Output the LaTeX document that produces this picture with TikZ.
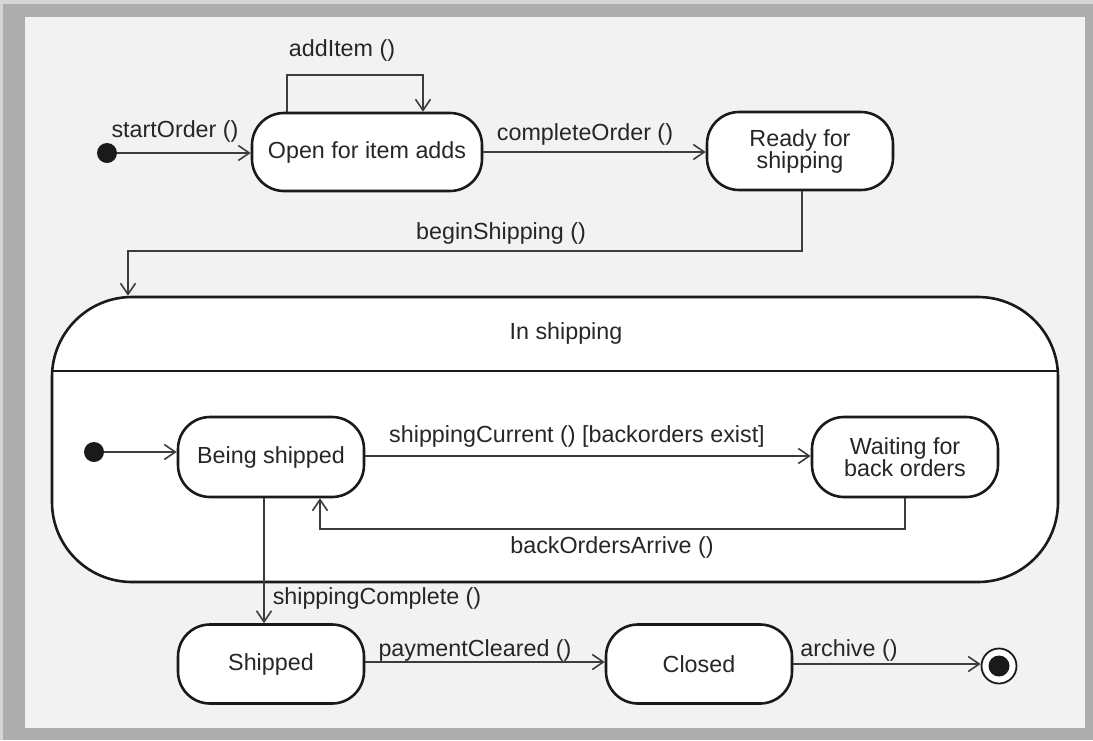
\documentclass[tikz,border=0pt]{standalone}
\usepackage{fontspec}
\setmainfont{Liberation Sans}
\usetikzlibrary{arrows.meta,positioning}
\definecolor{pagebg}{HTML}{F2F2F2}
\definecolor{framegray}{HTML}{ADADAD}
\definecolor{framelight}{HTML}{D6D6D6}
\definecolor{inkdark}{HTML}{1A1A1A}
\definecolor{conncol}{HTML}{3C3C3C}
\definecolor{textcol}{HTML}{262626}
\begin{document}
\begin{tikzpicture}[x=1pt,y=-1pt,
  font=\fontsize{23.3}{26}\selectfont,
  every node/.style={text=textcol},
  state/.style={draw=inkdark, fill=white, line width=2.6pt, rounded corners=32pt,
    align=center, inner sep=0pt},
  conn/.style={draw=conncol, line width=1.6pt,
    -{Straight Barb[length=11pt,width=15pt,line width=1.6pt]}},
  lbl/.style={inner sep=0pt},
  initdot/.style={circle, fill=inkdark, minimum size=20pt, inner sep=0pt},
]
% page and frame
\useasboundingbox (0,0) rectangle (1093,740);
\fill[framelight] (0,0) rectangle (1093,740);
\fill[framegray] (3,4) rectangle (1093,740);
\fill[pagebg] (25,17) rectangle (1085,728);

% composite state "In shipping"
\node[state, rounded corners=80pt, minimum width=1006pt, minimum height=285pt]
  (comp) at (555,439.5) {};
\draw[inkdark, line width=2pt] (52,371) -- (1058,371);
\node[lbl] (compname) at (566,333) {In shipping};

% top-level states
\node[initdot] (start) at (107,153) {};
\node[state, minimum width=230pt, minimum height=78pt] (open) at (367,152) {Open for item adds};
\node[state, minimum width=186pt, minimum height=78pt] (ready) at (800,151) {Ready for\\[-4pt]shipping};

% nested states
\node[initdot] (istart) at (94,452) {};
\node[state, minimum width=186pt, minimum height=80pt] (being) at (271,457) {Being shipped};
\node[state, minimum width=186pt, minimum height=80pt] (wait) at (905,457) {Waiting for\\[-4pt]back orders};

% bottom states
\node[state, minimum width=186pt, minimum height=79pt] (shipped) at (271,664) {Shipped};
\node[state, minimum width=186pt, minimum height=79pt] (closed) at (699,664) {Closed};
\node[circle, draw=inkdark, fill=white, line width=1.8pt, minimum size=35pt, inner sep=0pt]
  (final) at (999,666) {};
\node[circle, fill=inkdark, minimum size=21pt, inner sep=0pt] (finaldot) at (final) {};

% transitions
\draw[conn] (start) -- (open.west |- start);
\node[lbl] (lstart) at (175,131) {startOrder ()};

\coordinate (aiL) at (287,75);
\coordinate (aiR) at (423,75);
\draw[conn] (aiL |- open.north) -- (aiL) -- (aiR) -- (aiR |- open.north);
\node[lbl] (ladd) at (342,50) {addItem ()};

\draw[conn] (open.east) -- (ready.west |- open.east);
\node[lbl] (lcomplete) at (585,134) {completeOrder ()};

\coordinate (bsTurn) at (128,251);
\draw[conn] ([xshift=2pt]ready.south) |- (bsTurn) -- (bsTurn |- comp.north);
\node[lbl] (lbegin) at (501,233) {beginShipping ()};

\draw[conn] (istart) -- (being.west |- istart);

\draw[conn] (being.east |- 0,456) -- (wait.west |- 0,456);
\node[lbl] (lcurrent) at (577,436) {shippingCurrent () [backorders exist]};

\coordinate (boTurn) at (320,529);
\draw[conn] (wait.south) |- (boTurn) -- (boTurn |- being.south);
\node[lbl] (larrive) at (612,547) {backOrdersArrive ()};

\coordinate (scX) at (264,0);
\draw[conn] (scX |- being.south) -- (scX |- shipped.north);
\node[lbl] (lshipcomplete) at (377,598) {shippingComplete ()};

\draw[conn] (shipped.east |- 0,662) -- (closed.west |- 0,662);
\node[lbl] (lpayment) at (475,650) {paymentCleared ()};

\draw[conn] (closed.east |- 0,664) -- (final.west |- 0,664);
\node[lbl] (larchive) at (849,650) {archive ()};
\end{tikzpicture}
\end{document}
